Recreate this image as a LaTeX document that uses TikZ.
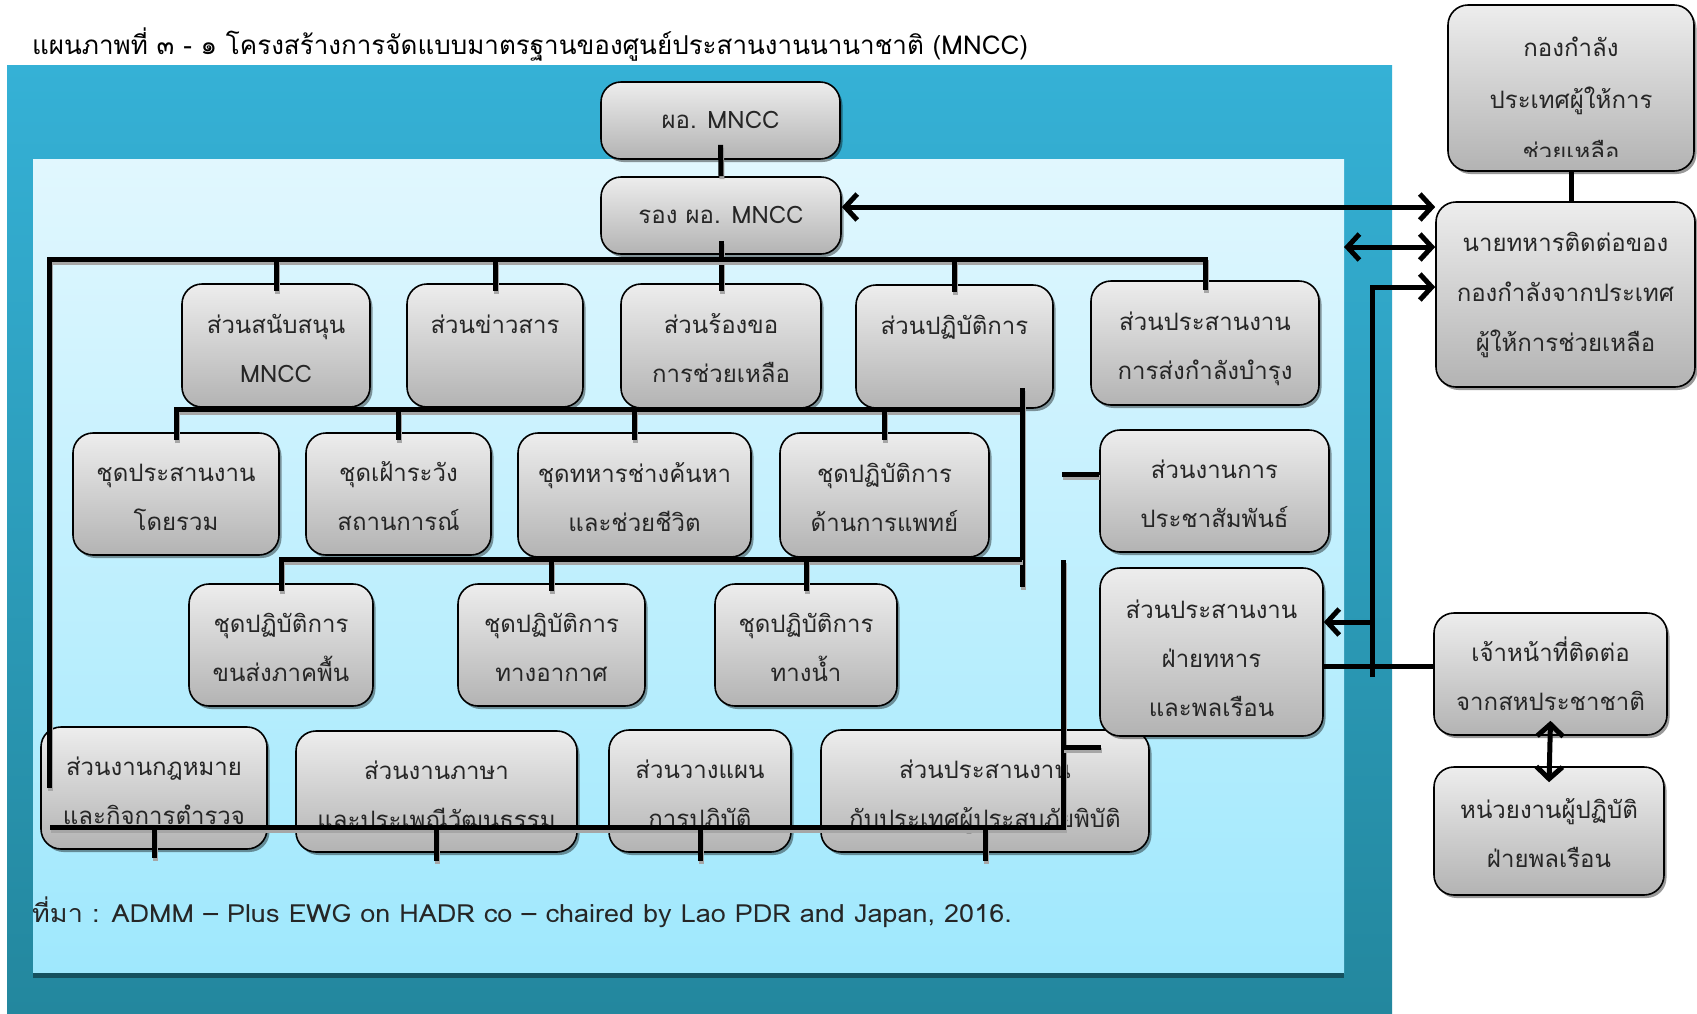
\documentclass[tikz,border=0pt]{standalone}
\usepackage{fontspec}
\setmainfont[Script=Thai]{Loma}
\newfontfamily\srcfont[Script=Thai,FakeStretch=1.08]{Loma}
\usetikzlibrary{arrows.meta,shadows}
\definecolor{outtop}{HTML}{35B1D6}
\definecolor{outbot}{HTML}{23879E}
\definecolor{intop}{HTML}{E1F7FE}
\definecolor{inbot}{HTML}{9FE8FD}
\definecolor{bxtop}{HTML}{EDEDED}
\definecolor{bxbot}{HTML}{B3B3B3}
\definecolor{txt}{HTML}{262626}
\newcommand{\sx}{\rule[-12.5pt]{0pt}{49pt}}
\newcommand{\sxd}{\rule[-9pt]{0pt}{49pt}}
\newcommand{\sxu}{\rule[-18pt]{0pt}{49pt}}
\newcommand{\sy}{\rule[-4pt]{0pt}{24pt}}
\begin{document}
\begin{tikzpicture}[x=1pt,y=-1pt,
  box/.style={draw=black, line width=1.6pt, rounded corners=20pt, top color=bxtop, bottom color=bxbot,
    inner sep=0pt, align=center, text=txt, font=\fontsize{24}{49}\selectfont,
    drop shadow={shadow xshift=2.5pt,shadow yshift=-3pt,fill=black,opacity=0.4}},
  txtbox/.style={inner sep=0pt, align=center, text=txt, font=\fontsize{24}{52}\selectfont},
  ln/.style={line width=5pt, black},
  lnshadow/.style={preaction={draw=black!35, line width=5pt, transform canvas={shift={(1pt,-3pt)}}}},
  >={Straight Barb[length=12pt,width=26pt]}]
\fill[white] (0,0) rectangle (1697,1013);
\useasboundingbox (0,0) rectangle (1697,1013);
% backgrounds
\shade[top color=outtop,bottom color=outbot] (7,65) rectangle (1392,1013);
\shade[top color=intop,bottom color=inbot] (33,159) rectangle (1344,973);
\fill[outbot!60!black] (33,973) rectangle (1344,978);
% title and source
\node[anchor=base west, inner sep=0pt, font=\fontsize{26}{30}\selectfont, text=black] (title) at (32,54)
  {แผนภาพที่ ๓ - ๑ โครงสร้างการจัดแบบมาตรฐานของศูนย์ประสานงานนานาชาติ (MNCC)};
\node[anchor=base west, inner sep=0pt, font=\srcfont\fontsize{25}{30}\selectfont, text=txt] (src) at (32,922)
  {ที่มา : ADMM – Plus EWG on HADR co – chaired by Lao PDR and Japan, 2016.};
% boxes
\node[box, minimum width=239, minimum height=77] (pa) at (720.5,120.5) {\sy ผอ. MNCC};
\node[box, minimum width=240, minimum height=77] (pb) at (721,215.5) {\sy รอง ผอ. MNCC};
\node[box, minimum width=188, minimum height=123] (b1) at (276,345.5) {\sx ส่วนสนับสนุน\\\sx MNCC};
\node[box, minimum width=176, minimum height=123] (b2) at (495,345.5) {\sx ส่วนข่าวสาร\\\sx};
\node[box, minimum width=200, minimum height=124] (b3) at (721,346) {\sx ส่วนร้องขอ\\\sx การช่วยเหลือ};
\node[box, minimum width=197, minimum height=123] (b4) at (954.5,346.5) {\sx ส่วนปฏิบัติการ\\\sx};
\node[box, minimum width=228, minimum height=124] (b5) at (1205,343) {\sx ส่วนประสานงาน\\\sx การส่งกำลังบำรุง};
\node[box, minimum width=206, minimum height=122] (c1) at (176,494) {\sx ชุดประสานงาน\\\sx โดยรวม};
\node[box, minimum width=185, minimum height=122] (c2) at (398.5,494) {\sx ชุดเฝ้าระวัง\\\sx สถานการณ์};
\node[box, minimum width=233, minimum height=124] (c3) at (634.5,495) {\sx ชุดทหารช่างค้นหา\\\sx และช่วยชีวิต};
\node[box, minimum width=209, minimum height=124] (c4) at (884.5,495) {\sx ชุดปฏิบัติการ\\\sx ด้านการแพทย์};
\node[box, minimum width=184, minimum height=122] (d1) at (281,645) {\sx ชุดปฏิบัติการ\\\sx ขนส่งภาคพื้น};
\node[box, minimum width=187, minimum height=122] (d2) at (551.5,645) {\sx ชุดปฏิบัติการ\\\sx ทางอากาศ};
\node[box, minimum width=182, minimum height=122] (d3) at (806,645) {\sx ชุดปฏิบัติการ\\\sx ทางน้ำ};
\node[box, minimum width=226, minimum height=122] (e1) at (154,788) {\sx ส่วนงานกฎหมาย\\\sx และกิจการตำรวจ};
\node[box, minimum width=281, minimum height=121] (e2) at (436.5,791.5) {\sx ส่วนงานภาษา\\\sx และประเพณีวัฒนธรรม};
\node[box, minimum width=182, minimum height=122] (e3) at (700,791) {\sx ส่วนวางแผน\\\sx การปฏิบัติ};
\node[box, minimum width=328, minimum height=122] (e4) at (985,791) {\sx ส่วนประสานงาน\\\sx กับประเทศผู้ประสบภัยพิบัติ};
\node[box, minimum width=229, minimum height=122] (f1) at (1214.5,491) {\sx ส่วนงานการ\\\sx ประชาสัมพันธ์};
\node[box, minimum width=223, minimum height=168] (f2) at (1211.5,652) {\sxd ส่วนประสานงาน\\\sxd ฝ่ายทหาร\\\sxd และพลเรือน};
\node[box, minimum width=246, minimum height=166] (g1) at (1571,88) {};
\begin{scope}
\clip (1448,5) rectangle (1694,156);
\node[txtbox] (g1t) at (1571,96) {\sx กองกำลัง\\\sx ประเทศผู้ให้การ\\\sx ช่วยเหลือ};
\end{scope}
\node[box, minimum width=259, minimum height=185, font=\fontsize{24}{50}\selectfont] (h1) at (1565.5,294.5) {\sxu นายทหารติดต่อของ\\\sxu กองกำลังจากประเทศ\\\sxu ผู้ให้การช่วยเหลือ};
\node[box, minimum width=233, minimum height=122] (u1) at (1550.5,674) {\sx เจ้าหน้าที่ติดต่อ\\\sx จากสหประชาชาติ};
\node[box, minimum width=230, minimum height=128] (u2) at (1549,831) {\sx หน่วยงานผู้ปฏิบัติ\\\sx ฝ่ายพลเรือน};
% coordinates
\coordinate (barL) at (49,259);
\coordinate (barR) at (1205,259);
\coordinate (legL) at (49,788);
\coordinate (bar2R) at (1022,409);
\coordinate (v2top) at (1022,388);
\coordinate (v2bot) at (1022,587);
\coordinate (bar3R) at (1022,559);
\coordinate (bar4L) at (50,827);
\coordinate (bar4R) at (1063,827);
\coordinate (v4top) at (1063,560);
\coordinate (stub4) at (1101,747);
\coordinate (prstub) at (1062,474);
\coordinate (rvt) at (1372,287);
\coordinate (rvb) at (1372,677);
\coordinate (f2a) at (1372,622);
\coordinate (sa) at (1344,247);
% connectors
\begin{scope}[ln]
\draw[lnshadow] ([yshift=15pt]pa.south) -- (pb.north);
\draw[lnshadow] ([yshift=14pt]pb.south) -- ([yshift=-8pt]b3.north);
\draw[lnshadow] (legL) -- (barL) -- (barR) -- ([yshift=-10pt]b5.north);
\draw[lnshadow] (b1.north |- barL) -- ([yshift=-8pt]b1.north);
\draw[lnshadow] (b2.north |- barL) -- ([yshift=-8pt]b2.north);
\draw[lnshadow] (b4.north |- barL) -- ([yshift=-8pt]b4.north);
% second level
\draw[lnshadow] ([yshift=-8pt]c1.north) -- (c1.north |- bar2R) -- (bar2R);
\draw[lnshadow] (v2top) -- (v2bot);
\draw[lnshadow] (c2.north |- bar2R) -- ([yshift=-8pt]c2.north);
\draw[lnshadow] (c3.north |- bar2R) -- ([yshift=-8pt]c3.north);
\draw[lnshadow] (c4.north |- bar2R) -- ([yshift=-8pt]c4.north);
% third level
\draw[lnshadow] ([yshift=-8pt]d1.north) -- (d1.north |- bar3R) -- (bar3R);
\draw[lnshadow] (d2.north |- bar3R) -- ([yshift=-8pt]d2.north);
\draw[lnshadow] (d3.north |- bar3R) -- ([yshift=-8pt]d3.north);
% bottom level
\draw[lnshadow] (bar4L) -- (bar4R) -- (v4top);
\draw[lnshadow] (v4top |- stub4) -- (stub4);
\draw[lnshadow] (prstub) -- (prstub -| f1.west);
\draw[lnshadow] (e1.south |- bar4L) -- ([yshift=-8pt]e1.south);
\draw[lnshadow] (e2.south |- bar4L) -- ([yshift=-8pt]e2.south);
\draw[lnshadow] (e3.south |- bar4L) -- ([yshift=-8pt]e3.south);
\draw[lnshadow] (e4.south |- bar4L) -- ([yshift=-8pt]e4.south);
% right side
\draw[->] (rvb) -- (rvt) -- (rvt -| h1.west);
\draw[->] (f2a) -- (f2a -| f2.east);
\draw ([yshift=8pt]u1.west) -- ([yshift=8pt]u1.west -| f2.east);
\draw[<->] ([yshift=8.5pt]pb.east) -- ([yshift=8.5pt]pb.east -| h1.west);
\draw[<->] (sa) -- (sa -| h1.west);
\draw (g1.south) -- (g1.south |- h1.north);
\draw[<->] ([yshift=15pt]u1.south) -- ([yshift=-16pt]u2.north);
\end{scope}
\end{tikzpicture}
\end{document}
